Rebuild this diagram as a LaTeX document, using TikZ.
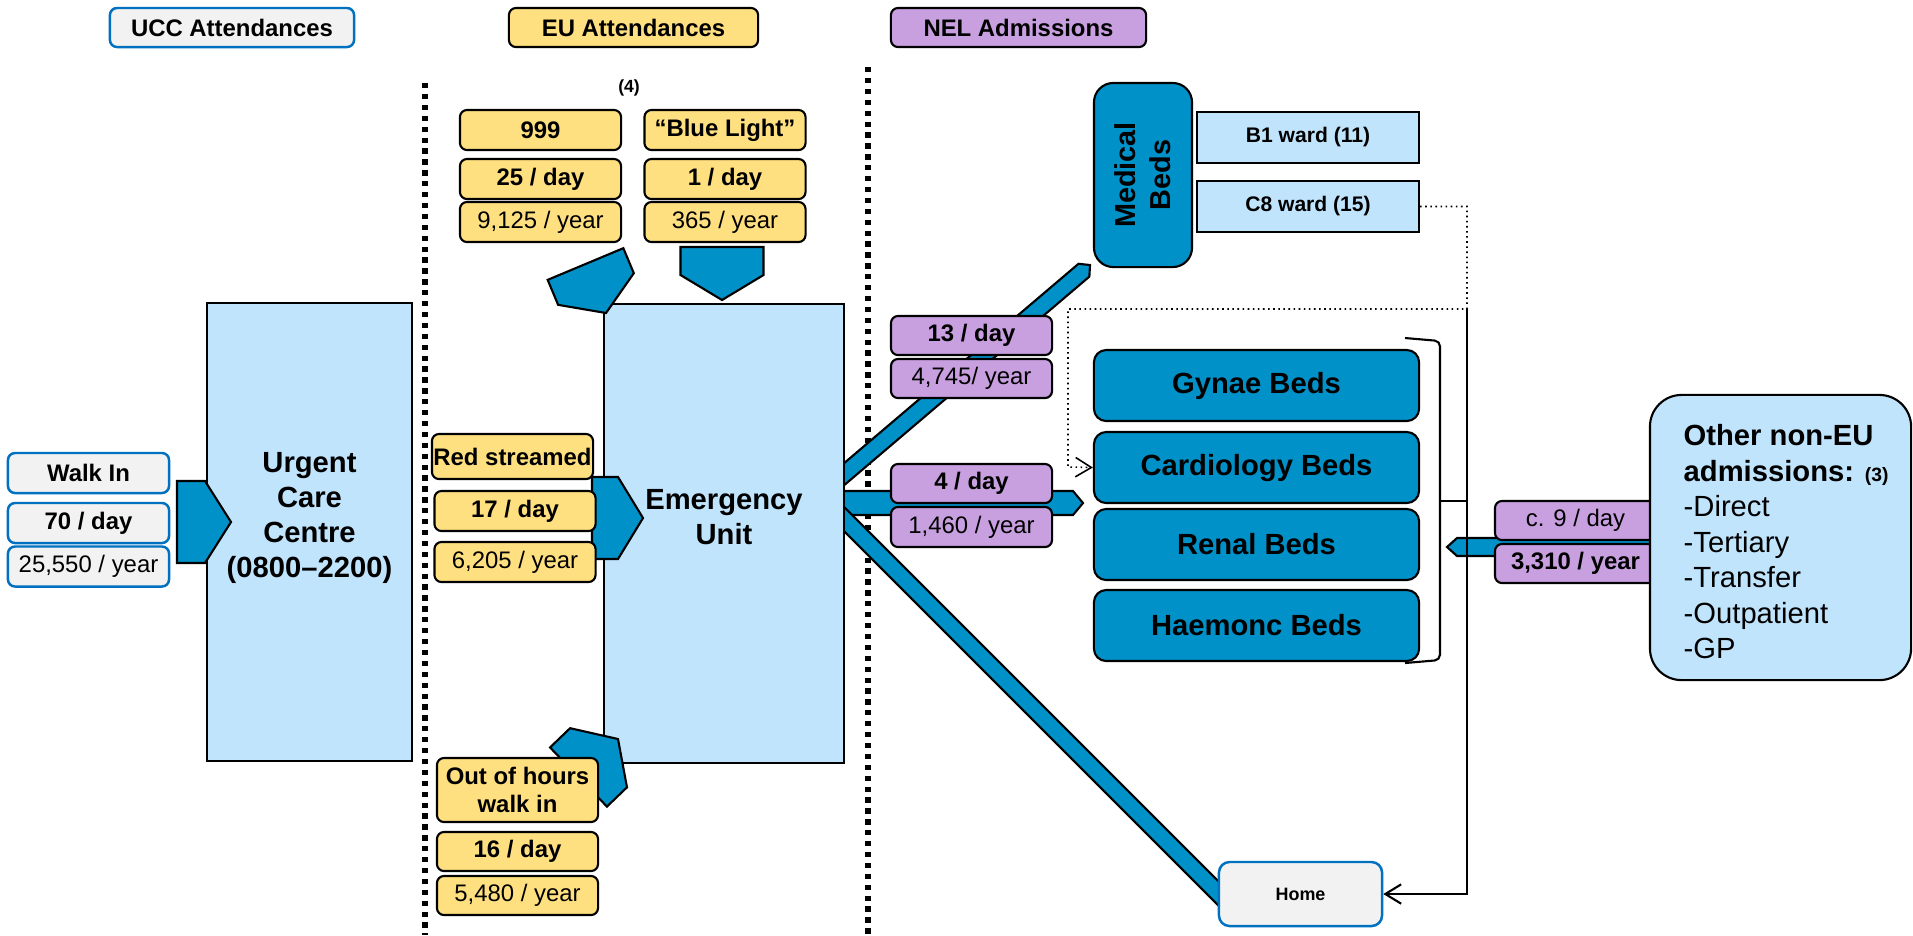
\documentclass[tikz,border=0pt]{standalone}
\usepackage{fontspec}
\setmainfont{Liberation Sans}
\usetikzlibrary{calc,arrows.meta}

\definecolor{ylw}{RGB}{255,224,128}
\definecolor{pur}{RGB}{200,160,224}
\definecolor{bdark}{RGB}{0,145,200}
\definecolor{lblue}{RGB}{192,228,252}
\definecolor{gfill}{RGB}{242,242,242}
\definecolor{gline}{RGB}{0,112,192}

\newcommand\flowarrow[4]{%
  \path ($(#2)!#4!(#1)$) coordinate (fa base);
  \filldraw[flow] ($(#1)!#3!90:(#2)$) -- ($(fa base)!#3!90:(#2)$) -- (#2)
    -- ($(fa base)!#3!-90:(#2)$) -- ($(#1)!#3!-90:(#2)$) -- cycle;}

\begin{document}
\begin{tikzpicture}[x=0.01cm,y=-0.01cm,
    box/.style={draw,line width=0.6pt,inner sep=0pt,align=center},
    gray box/.style={box,draw=gline,line width=0.7pt,fill=gfill,rounded corners=2pt},
    yellow box/.style={box,fill=ylw,rounded corners=2pt},
    purple box/.style={box,fill=pur,rounded corners=2pt},
    area/.style={box,fill=lblue},
    beds/.style={box,fill=bdark,rounded corners=3.5pt,minimum width=3.25cm,minimum height=0.71cm,font=\fontsize{8.3}{10}\selectfont\bfseries},
    tag/.style={minimum width=1.61cm,minimum height=0.4cm},
    bold text/.style={font=\fontsize{6.8}{8}\selectfont\bfseries},
    plain text/.style={font=\fontsize{6.8}{8}\selectfont},
    big text/.style={font=\fontsize{8.3}{10}\selectfont\bfseries,align=center},
    flow/.style={fill=bdark,draw=black,line width=0.6pt},
    divider/.style={line width=1.5pt,dash pattern=on 1.5pt off 1.6pt},
    link/.style={draw=black,line width=0.6pt},
    barb/.style={-{Straight Barb[length=4.5pt,width=5.5pt]}}]

  \path[use as bounding box,fill=white] (0,0) rectangle (1913,935);

  \draw[divider] (425,83) -- (425,935);
  \draw[divider] (868,67) -- (868,935);

  % flows out of the emergency unit
  \coordinate (med s) at (829,487);
  \coordinate (med t) at (1090,265);
  \coordinate (card s) at (824,503);
  \coordinate (card t) at (1083,503);
  \coordinate (home s) at (830,505);
  \coordinate (home t) at (1240,915);
  \flowarrow{med s}{med t}{0.084cm}{0.08cm}
  \flowarrow{card s}{card t}{0.12cm}{0.1cm}
  \flowarrow{home s}{home t}{0.085cm}{0.1cm}

  \node[area,minimum width=2.05cm,minimum height=4.58cm] (ucc) at (309.5,532) {};
  \node[big text] (ucc label) at (309.5,518) {Urgent\\Care\\Centre\\(0800–2200)};
  \node[area,minimum width=2.40cm,minimum height=4.59cm] (eu) at (724,533.5) {};
  \node[big text] (eu label) at (724,517) {Emergency\\Unit};

  % arrivals
  \coordinate (walk s) at (177,522);
  \coordinate (walk t) at (231,522);
  \coordinate (amb s) at (585.5,264);
  \coordinate (amb t) at (606,313);
  \coordinate (blue s) at (722,247);
  \coordinate (blue t) at (722,300);
  \coordinate (red s) at (592,518);
  \coordinate (red t) at (643,518);
  \coordinate (ooh s) at (578.5,777);
  \coordinate (ooh t) at (618,739);
  \coordinate (oth s) at (1653,547);
  \coordinate (oth t) at (1447,547);
  \flowarrow{walk s}{walk t}{0.41cm}{0.26cm}
  \flowarrow{amb s}{amb t}{0.41cm}{0.26cm}
  \flowarrow{blue s}{blue t}{0.415cm}{0.25cm}
  \flowarrow{red s}{red t}{0.41cm}{0.25cm}
  \flowarrow{ooh s}{ooh t}{0.41cm}{0.27cm}
  \flowarrow{oth s}{oth t}{0.09cm}{0.1cm}

  \node[gray box,bold text,minimum width=2.44cm,minimum height=0.39cm] (ucc head) at (232,27.5) {UCC Attendances};
  \node[yellow box,bold text,minimum width=2.49cm,minimum height=0.39cm] (eu head) at (633.5,27.5) {EU Attendances};
  \node[purple box,bold text,minimum width=2.55cm,minimum height=0.39cm] (nel head) at (1018.5,27.5) {NEL Admissions};

  \node[gray box,tag,bold text] (walk) at (88.5,473) {Walk In};
  \node[gray box,tag,bold text] (walk day) at (88.5,523) {70 / day};
  \node[gray box,tag,plain text] (walk year) at (88.5,566.5) {25,550 / year};

  \node[font=\fontsize{5}{6}\selectfont\bfseries] (note4) at (629,88) {(4)};
  \node[yellow box,tag,bold text] (amb) at (540.5,130) {999};
  \node[yellow box,tag,bold text] (amb day) at (540.5,179) {25 / day};
  \node[yellow box,tag,plain text] (amb year) at (540.5,222) {9,125 / year};
  \node[yellow box,tag,bold text] (blue) at (725,130) {“Blue Light”};
  \node[yellow box,tag,bold text] (blue day) at (725,179) {1 / day};
  \node[yellow box,tag,plain text] (blue year) at (725,222) {365 / year};
  \node[yellow box,tag,bold text,minimum height=0.45cm] (red) at (512.5,456.5) {Red streamed};
  \node[yellow box,tag,bold text] (red day) at (515,511) {17 / day};
  \node[yellow box,tag,plain text] (red year) at (515,562) {6,205 / year};
  \node[yellow box,tag,bold text,minimum height=0.64cm] (ooh) at (517.5,790) {Out of hours\\walk in};
  \node[yellow box,tag,bold text,minimum height=0.39cm] (ooh day) at (517.5,851.5) {16 / day};
  \node[yellow box,tag,plain text,minimum height=0.39cm] (ooh year) at (517.5,895.5) {5,480 / year};

  \node[purple box,tag,bold text,minimum height=0.39cm] (med day) at (971.5,335.5) {13 / day};
  \node[purple box,tag,plain text,minimum height=0.39cm] (med year) at (971.5,378.5) {4,745/ year};
  \node[purple box,tag,bold text,minimum height=0.39cm] (card day) at (971.5,483.5) {4 / day};
  \node[purple box,tag,plain text] (card year) at (971.5,527) {1,460 / year};
  \node[purple box,tag,plain text,minimum height=0.39cm] (oth day) at (1575.5,520.5) {c. 9 / day};
  \node[purple box,tag,bold text,minimum height=0.39cm] (oth year) at (1575.5,563.5) {3,310 / year};

  \node[box,fill=bdark,rotate=90,rounded corners=5.5pt,minimum width=1.84cm,minimum height=0.98cm,
        font=\fontsize{8.2}{10}\selectfont\bfseries] (medical) at (1143,175) {Medical\\Beds};
  \node[area,minimum width=2.22cm,minimum height=0.51cm,font=\fontsize{6}{7}\selectfont\bfseries] (b1) at (1308,137.5) {B1 ward (11)};
  \node[area,minimum width=2.22cm,minimum height=0.51cm,font=\fontsize{6}{7}\selectfont\bfseries] (c8) at (1308,206.5) {C8 ward (15)};

  \node[beds] (gynae) at (1256.5,385.5) {Gynae Beds};
  \node[beds] (cardio) at (1256.5,467.5) {Cardiology Beds};
  \node[beds] (renal) at (1256.5,544.5) {Renal Beds};
  \node[beds] (haem) at (1256.5,625.5) {Haemonc Beds};

  \node[area,rounded corners=9pt,minimum width=2.61cm,minimum height=2.85cm] (other) at (1780.5,537.5) {};
  \node[anchor=north west,align=left,inner sep=0pt,font=\fontsize{8.3}{10.1}\selectfont] (other text) at (1683,424)
    {\textbf{Other non-EU}\\\textbf{admissions:} {\fontsize{5.5}{6}\selectfont\bfseries(3)}\\-Direct\\-Tertiary\\-Transfer\\-Outpatient\\-GP};

  \node[gray box,rounded corners=3pt,minimum width=1.63cm,minimum height=0.64cm,font=\fontsize{5.1}{6}\selectfont\bfseries] (home) at (1300.5,894) {Home};

  \coordinate (bracket mid) at (1440,501);
  \coordinate (rail top) at (1467,309);
  \coordinate (dot turn) at (1068,467);
  \draw[link,rounded corners=1.5pt] (1405,338) -- (1440,341) -- (1440,660) -- (1405,663);
  \draw[link,line width=0.45pt,densely dotted,barb] (c8.east) -| (rail top) -| (dot turn) -- (cardio.west);
  \draw[link] (bracket mid) -- (bracket mid -| rail top);
  \draw[link,barb] (rail top) |- (home.east);

\end{tikzpicture}
\end{document}
